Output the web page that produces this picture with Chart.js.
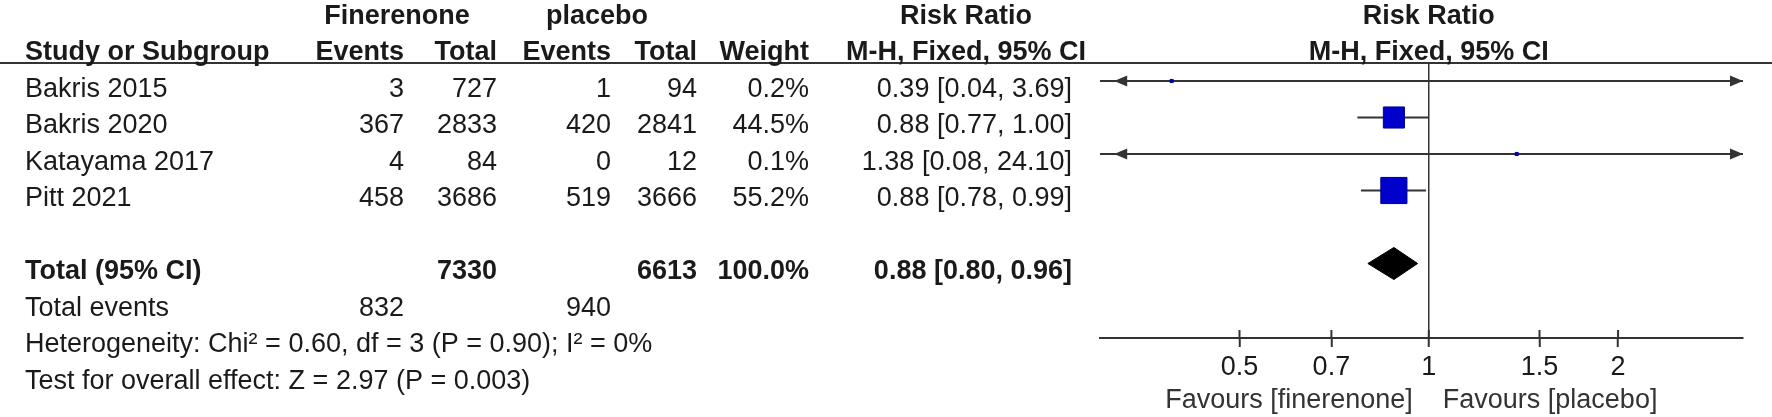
<!DOCTYPE html>
<html>
<head>
<meta charset="utf-8">
<script src="https://cdn.jsdelivr.net/npm/chart.js@4.4.1/dist/chart.umd.min.js"></script>
<style>
  html, body { margin: 0; padding: 0; background: #ffffff; }
  #wrap { width: 1772px; height: 417px; position: relative; }
</style>
</head>
<body>
<div id="wrap"><canvas id="c" width="1772" height="417"></canvas></div>
<script>
// ---------- data ----------
const studies    = ['Bakris 2015', 'Bakris 2020', 'Katayama 2017', 'Pitt 2021'];
const finEvents  = [3, 367, 4, 458];
const finTotal   = [727, 2833, 84, 3686];
const plcEvents  = [1, 420, 0, 519];
const plcTotal   = [94, 2841, 12, 3666];
const weights    = [0.2, 44.5, 0.1, 55.2];
const riskRatio  = [0.39, 0.88, 1.38, 0.88];
const ciLow      = [0.04, 0.77, 0.08, 0.78];
const ciHigh     = [3.69, 1.00, 24.10, 0.99];

const pooledRR    = 0.88;
const pooledLow   = 0.80;
const pooledHigh  = 0.96;
const totalFinN   = 7330;
const totalPlcN   = 6613;
const totalWeight = 100.0;
const totalFinEv  = 832;
const totalPlcEv  = 940;
const heterogeneityText = 'Heterogeneity: Chi\u00B2 = 0.60, df = 3 (P = 0.90); I\u00B2 = 0%';
const overallText       = 'Test for overall effect: Z = 2.97 (P = 0.003)';

const tickValues = [0.5, 0.7, 1, 1.5, 2];
const tickLabels = ['0.5', '0.7', '1', '1.5', '2'];
const axisMin = 0.316, axisMax = 3.16;
const favoursLeft  = 'Favours [finerenone]';
const favoursRight = 'Favours [placebo]';

// ---------- layout / style constants ----------
const FONT = '"Liberation Sans", Arial, Helvetica, sans-serif';
const FS = 27;
const TEXT_COLOR = '#1a1a1a';
const LINE_COLOR = '#333333';
const ROW_TOTAL = 5, ROW_EVENTS = 6, ROW_HET = 7, ROW_TEST = 8;
const TEXT_DY = 8.5;
const DIAMOND_HALF = 0.44;
const COL = { label: 25, finEv: 404, finTot: 497, plcEv: 611, plcTot: 697, weight: 809, ci: 1072,
              finHead: 397, plcHead: 597, rrHead: 966 };

Chart.defaults.font.family = FONT;

const fmt2 = v => v.toFixed(2);
const ciText = (r, l, h) => fmt2(r) + ' [' + fmt2(l) + ', ' + fmt2(h) + ']';

// ---------- datasets ----------
const datasets = [];
datasets.push({
  type: 'scatter', label: 'estimates', order: 0,
  data: studies.map((s, i) => ({ x: riskRatio[i], y: i })),
  pointStyle: 'rect',
  pointRadius: weights.map(w => Math.max(2.2, w * 0.335)),
  backgroundColor: '#0000cc', borderColor: '#00008b', borderWidth: 1
});
studies.forEach((s, i) => {
  datasets.push({
    type: 'line', label: 'ci ' + s, order: 2, showLine: true,
    data: [{ x: ciLow[i], y: i }, { x: ciHigh[i], y: i }],
    borderColor: LINE_COLOR, borderWidth: 2, pointRadius: 0, fill: false
  });
});
datasets.push({
  type: 'line', label: 'diamond-top', order: 1, showLine: true,
  data: [{ x: pooledLow, y: ROW_TOTAL }, { x: pooledRR, y: ROW_TOTAL - DIAMOND_HALF }, { x: pooledHigh, y: ROW_TOTAL }],
  borderColor: '#000', backgroundColor: '#000', borderWidth: 1, pointRadius: 0, fill: '+1', tension: 0
});
datasets.push({
  type: 'line', label: 'diamond-bottom', order: 1, showLine: true,
  data: [{ x: pooledLow, y: ROW_TOTAL }, { x: pooledRR, y: ROW_TOTAL + DIAMOND_HALF }, { x: pooledHigh, y: ROW_TOTAL }],
  borderColor: '#000', backgroundColor: '#000', borderWidth: 1, pointRadius: 0, fill: false, tension: 0
});

// ---------- table / decoration plugin ----------
const forestPlugin = {
  id: 'forestTable',
  afterDatasetsDraw(chart) {
    const { ctx, scales: { x, y }, chartArea } = chart;
    ctx.save();
    // arrowheads for intervals beyond the axis
    ctx.fillStyle = LINE_COLOR;
    studies.forEach((s, i) => {
      const py = y.getPixelForValue(i);
      if (ciLow[i] < axisMin) {
        const px = x.getPixelForValue(axisMin);
        ctx.beginPath(); ctx.moveTo(px, py); ctx.lineTo(px + 13, py - 5.5); ctx.lineTo(px + 13, py + 5.5); ctx.closePath(); ctx.fill();
      }
      if (ciHigh[i] > axisMax) {
        const px = x.getPixelForValue(axisMax);
        ctx.beginPath(); ctx.moveTo(px, py); ctx.lineTo(px - 13, py - 5.5); ctx.lineTo(px - 13, py + 5.5); ctx.closePath(); ctx.fill();
      }
    });
    // upper halves of the axis tick marks
    ctx.strokeStyle = LINE_COLOR; ctx.lineWidth = 2;
    x.ticks.forEach(t => {
      const px = x.getPixelForValue(t.value);
      ctx.beginPath(); ctx.moveTo(px, chartArea.bottom - 8); ctx.lineTo(px, chartArea.bottom); ctx.stroke();
    });
    ctx.restore();
  },
  afterDraw(chart) {
    const { ctx, scales: { x, y }, chartArea, width } = chart;
    const rowY = r => y.getPixelForValue(r) + TEXT_DY;
    ctx.save();
    ctx.textBaseline = 'middle';
    ctx.fillStyle = TEXT_COLOR;
    const bold = 'bold ' + FS + 'px ' + FONT;
    const norm = FS + 'px ' + FONT;
    const txt = (s, px, py, align, font) => { ctx.font = font; ctx.textAlign = align; ctx.fillText(s, px, py); };

    // header line under column titles
    ctx.strokeStyle = LINE_COLOR; ctx.lineWidth = 2;
    ctx.beginPath(); ctx.moveTo(0, chartArea.top); ctx.lineTo(width, chartArea.top); ctx.stroke();

    const x1 = x.getPixelForValue(1);
    // header row 1
    const h1 = rowY(-2), h2 = rowY(-1);
    txt('Finerenone', COL.finHead, h1, 'center', bold);
    txt('placebo', COL.plcHead, h1, 'center', bold);
    txt('Risk Ratio', COL.rrHead, h1, 'center', bold);
    txt('Risk Ratio', x1, h1, 'center', bold);
    // header row 2
    txt('Study or Subgroup', COL.label, h2, 'left', bold);
    txt('Events', COL.finEv, h2, 'right', bold);
    txt('Total', COL.finTot, h2, 'right', bold);
    txt('Events', COL.plcEv, h2, 'right', bold);
    txt('Total', COL.plcTot, h2, 'right', bold);
    txt('Weight', COL.weight, h2, 'right', bold);
    txt('M-H, Fixed, 95% CI', COL.rrHead, h2, 'center', bold);
    txt('M-H, Fixed, 95% CI', x1, h2, 'center', bold);

    // study rows
    studies.forEach((s, i) => {
      const py = rowY(i);
      txt(s, COL.label, py, 'left', norm);
      txt(String(finEvents[i]), COL.finEv, py, 'right', norm);
      txt(String(finTotal[i]), COL.finTot, py, 'right', norm);
      txt(String(plcEvents[i]), COL.plcEv, py, 'right', norm);
      txt(String(plcTotal[i]), COL.plcTot, py, 'right', norm);
      txt(weights[i].toFixed(1) + '%', COL.weight, py, 'right', norm);
      txt(ciText(riskRatio[i], ciLow[i], ciHigh[i]), COL.ci, py, 'right', norm);
    });

    // total row
    const pt = rowY(ROW_TOTAL);
    txt('Total (95% CI)', COL.label, pt, 'left', bold);
    txt(String(totalFinN), COL.finTot, pt, 'right', bold);
    txt(String(totalPlcN), COL.plcTot, pt, 'right', bold);
    txt(totalWeight.toFixed(1) + '%', COL.weight, pt, 'right', bold);
    txt(ciText(pooledRR, pooledLow, pooledHigh), COL.ci, pt, 'right', bold);

    const pe = rowY(ROW_EVENTS);
    txt('Total events', COL.label, pe, 'left', norm);
    txt(String(totalFinEv), COL.finEv, pe, 'right', norm);
    txt(String(totalPlcEv), COL.plcEv, pe, 'right', norm);
    txt(heterogeneityText, COL.label, rowY(ROW_HET), 'left', norm);
    txt(overallText, COL.label, rowY(ROW_TEST), 'left', norm);

    // favours labels under the axis
    ctx.fillStyle = '#333';
    const fy = chartArea.bottom + 63;
    txt(favoursLeft, x1 - 16, fy, 'right', norm);
    txt(favoursRight, x1 + 14, fy, 'left', norm);
    ctx.restore();
  }
};

new Chart(document.getElementById('c'), {
  type: 'scatter',
  data: { datasets },
  options: {
    responsive: false,
    animation: false,
    events: [],
    layout: { padding: { left: 1100, right: 29, top: 63, bottom: 34 } },
    plugins: { legend: { display: false }, tooltip: { enabled: false }, title: { display: false } },
    scales: {
      x: {
        type: 'logarithmic', min: axisMin, max: axisMax, position: 'bottom',
        afterBuildTicks: s => { s.ticks = tickValues.map(v => ({ value: v })); },
        afterFit: s => { s.height = 45; },
        ticks: {
          autoSkip: false, maxRotation: 0, minRotation: 0, padding: 4, color: TEXT_COLOR,
          font: { family: FONT, size: FS },
          callback: (v, i) => tickLabels[i]
        },
        grid: {
          drawOnChartArea: true, drawTicks: true, tickLength: 9,
          color: c => (c.tick && c.tick.value === 1) ? LINE_COLOR : 'rgba(0,0,0,0)',
          tickColor: LINE_COLOR, lineWidth: 1.5, tickWidth: 2
        },
        border: { display: true, color: LINE_COLOR, width: 2 }
      },
      y: { type: 'linear', min: -0.493, max: 7.041, reverse: true, display: false }
    }
  },
  plugins: [forestPlugin]
});
</script>
</body>
</html>
